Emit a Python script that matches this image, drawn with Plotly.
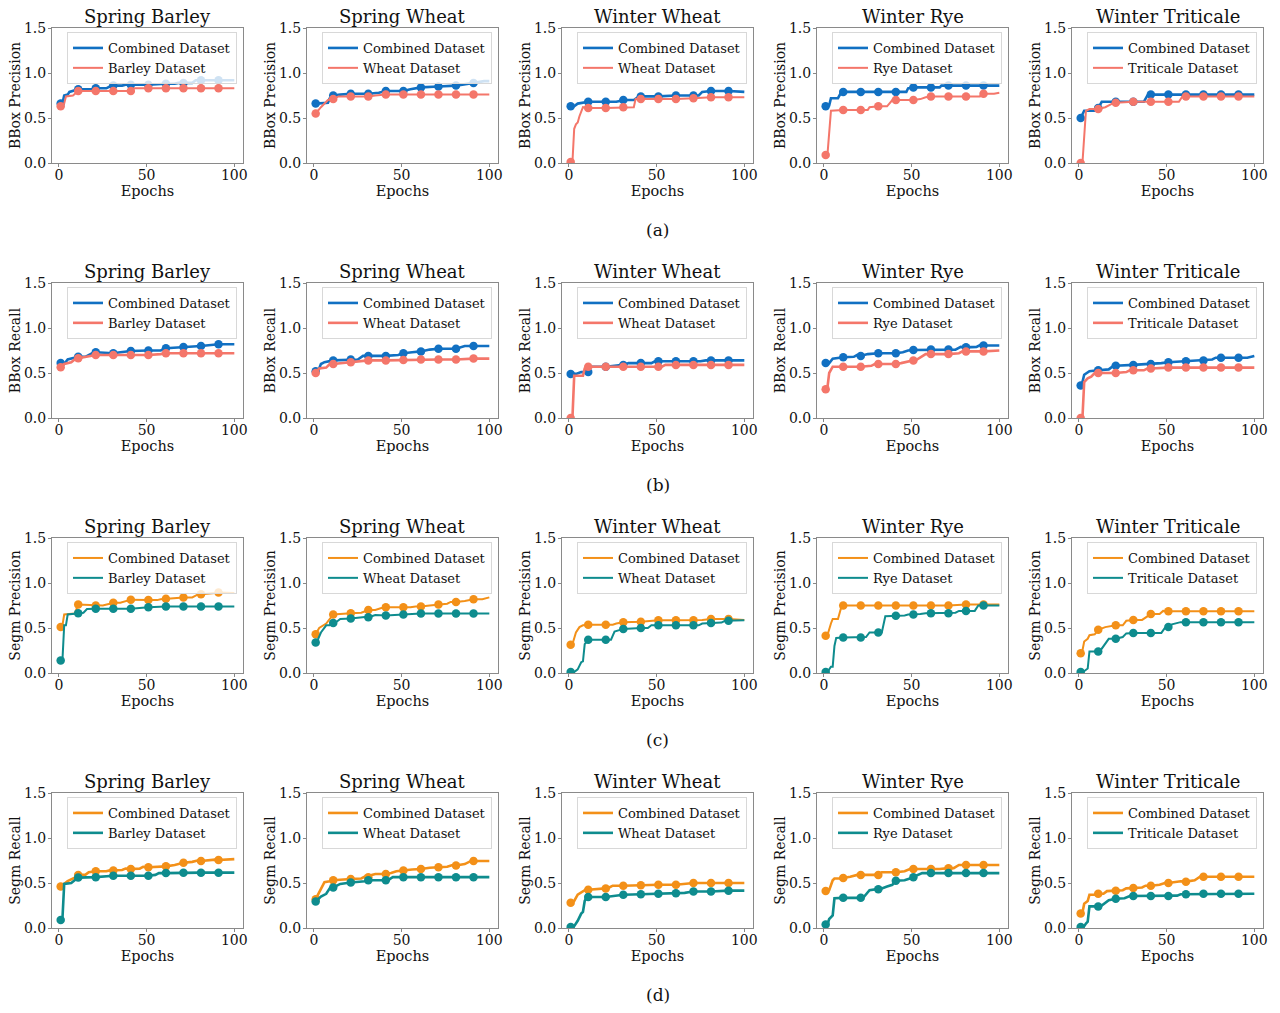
import plotly.graph_objects as go
from plotly.subplots import make_subplots

# ---------------- data ----------------
crops = ["Spring Barley", "Spring Wheat", "Winter Wheat", "Winter Rye", "Winter Triticale"]
single_names = ["Barley Dataset", "Wheat Dataset", "Wheat Dataset", "Rye Dataset", "Triticale Dataset"]
combined_name = "Combined Dataset"
metrics = ["BBox Precision", "BBox Recall", "Segm Precision", "Segm Recall"]
panel_letters = ["(a)", "(b)", "(c)", "(d)"]
marker_epochs = [1, 11, 21, 31, 41, 51, 61, 71, 81, 91]
x_ticks = [0, 50, 100]
y_ticks = [0.0, 0.5, 1.0, 1.5]
y_tick_text = ["0.0", "0.5", "1.0", "1.5"]

# (a) BBox Precision
bbox_prec_comb_ep = [
    [1, 2, 3, 5, 6, 11, 20, 21, 27, 29, 31, 36, 38, 41, 51, 61, 66, 68, 71, 76, 78, 81, 91, 100],
    [1, 8, 9, 11, 15, 21, 31, 37, 41, 51, 55, 61, 71, 81, 91, 97, 100],
    [1, 3, 5, 11, 21, 27, 29, 31, 37, 40, 41, 51, 61, 71, 74, 76, 81, 91, 100],
    [1, 3, 4, 8, 10, 11, 21, 31, 41, 47, 48, 51, 61, 66, 67, 71, 81, 91, 100],
    [1, 2, 3, 9, 11, 13, 21, 31, 37, 39, 41, 51, 61, 71, 81, 91, 100],
]
bbox_prec_comb_val = [
    [0.66, 0.66, 0.75, 0.76, 0.79, 0.82, 0.82, 0.83, 0.83, 0.85, 0.86, 0.86, 0.87, 0.87, 0.87, 0.88, 0.88, 0.89, 0.89, 0.89, 0.92, 0.92, 0.92, 0.92],
    [0.66, 0.67, 0.72, 0.75, 0.76, 0.77, 0.77, 0.78, 0.80, 0.80, 0.82, 0.84, 0.85, 0.86, 0.89, 0.91, 0.91],
    [0.63, 0.63, 0.66, 0.68, 0.68, 0.68, 0.69, 0.70, 0.70, 0.74, 0.74, 0.74, 0.75, 0.75, 0.75, 0.79, 0.80, 0.80, 0.79],
    [0.63, 0.64, 0.72, 0.72, 0.79, 0.79, 0.79, 0.79, 0.79, 0.79, 0.83, 0.84, 0.84, 0.84, 0.86, 0.86, 0.86, 0.86, 0.86],
    [0.50, 0.55, 0.58, 0.58, 0.61, 0.68, 0.68, 0.68, 0.68, 0.75, 0.76, 0.76, 0.76, 0.76, 0.76, 0.76, 0.76],
]
bbox_prec_single_ep = [
    [1, 2, 3, 4, 8, 10, 11, 21, 31, 41, 43, 51, 61, 71, 81, 91, 100],
    [1, 4, 8, 11, 14, 21, 31, 35, 41, 51, 61, 71, 81, 91, 100],
    [1, 2, 3, 4, 5, 6, 8, 11, 21, 31, 37, 38, 41, 51, 61, 71, 81, 91, 100],
    [1, 2, 4, 11, 21, 25, 26, 31, 36, 39, 41, 51, 55, 58, 61, 71, 81, 89, 90, 91, 97, 100],
    [1, 2, 4, 6, 11, 15, 19, 21, 31, 41, 51, 57, 59, 61, 71, 81, 91, 100],
]
bbox_prec_single_val = [
    [0.63, 0.64, 0.66, 0.74, 0.75, 0.79, 0.80, 0.80, 0.80, 0.80, 0.83, 0.83, 0.83, 0.83, 0.83, 0.83, 0.83],
    [0.55, 0.62, 0.70, 0.71, 0.74, 0.74, 0.74, 0.75, 0.76, 0.76, 0.76, 0.76, 0.76, 0.76, 0.76],
    [0.01, 0.01, 0.38, 0.43, 0.45, 0.52, 0.62, 0.61, 0.61, 0.62, 0.62, 0.71, 0.71, 0.71, 0.71, 0.72, 0.73, 0.73, 0.73],
    [0.09, 0.09, 0.58, 0.59, 0.59, 0.59, 0.62, 0.63, 0.63, 0.70, 0.70, 0.70, 0.71, 0.73, 0.74, 0.74, 0.74, 0.74, 0.77, 0.77, 0.77, 0.78],
    [0.0, 0.0, 0.58, 0.60, 0.60, 0.62, 0.66, 0.67, 0.68, 0.68, 0.68, 0.68, 0.74, 0.74, 0.74, 0.74, 0.74, 0.74],
]

# (b) BBox Recall
bbox_rec_comb_ep = [
    [1, 3, 5, 11, 15, 19, 21, 31, 35, 41, 51, 58, 61, 66, 71, 81, 91, 100],
    [1, 3, 4, 6, 11, 21, 25, 28, 31, 41, 48, 51, 56, 61, 66, 71, 81, 86, 91, 100],
    [1, 4, 7, 10, 11, 12, 21, 31, 34, 41, 47, 49, 51, 61, 71, 75, 78, 81, 91, 100],
    [1, 3, 5, 11, 17, 19, 21, 25, 31, 41, 45, 48, 51, 61, 71, 75, 78, 81, 87, 89, 91, 100],
    [1, 2, 3, 5, 6, 11, 17, 19, 21, 31, 41, 47, 51, 61, 71, 76, 78, 81, 91, 96, 100],
]
bbox_rec_comb_val = [
    [0.61, 0.60, 0.65, 0.68, 0.68, 0.72, 0.73, 0.72, 0.73, 0.745, 0.75, 0.75, 0.775, 0.78, 0.79, 0.80, 0.82, 0.82],
    [0.52, 0.55, 0.60, 0.62, 0.64, 0.65, 0.65, 0.69, 0.69, 0.69, 0.70, 0.72, 0.73, 0.74, 0.76, 0.77, 0.77, 0.80, 0.80, 0.80],
    [0.49, 0.49, 0.51, 0.51, 0.51, 0.57, 0.57, 0.59, 0.61, 0.61, 0.61, 0.63, 0.63, 0.63, 0.63, 0.63, 0.64, 0.64, 0.64, 0.64],
    [0.61, 0.61, 0.66, 0.675, 0.68, 0.70, 0.69, 0.71, 0.72, 0.72, 0.73, 0.75, 0.755, 0.76, 0.76, 0.76, 0.79, 0.785, 0.79, 0.81, 0.805, 0.805],
    [0.36, 0.40, 0.48, 0.51, 0.52, 0.53, 0.54, 0.57, 0.58, 0.59, 0.60, 0.61, 0.62, 0.63, 0.64, 0.65, 0.67, 0.67, 0.67, 0.67, 0.69],
]
bbox_rec_single_ep = [
    [1, 3, 7, 9, 11, 15, 19, 21, 31, 41, 51, 58, 61, 71, 81, 91, 100],
    [1, 3, 7, 9, 11, 21, 28, 31, 41, 51, 61, 71, 81, 88, 91, 100],
    [1, 2, 3, 8, 9, 11, 21, 31, 41, 51, 53, 55, 61, 71, 81, 91, 100],
    [1, 2, 3, 5, 11, 21, 27, 29, 31, 41, 44, 48, 51, 53, 58, 61, 71, 77, 79, 81, 91, 100],
    [1, 2, 3, 5, 7, 9, 11, 21, 27, 29, 31, 37, 39, 41, 51, 61, 71, 81, 91, 100],
]
bbox_rec_single_val = [
    [0.565, 0.60, 0.62, 0.65, 0.665, 0.68, 0.70, 0.70, 0.70, 0.70, 0.70, 0.71, 0.72, 0.72, 0.72, 0.72, 0.72],
    [0.50, 0.55, 0.56, 0.60, 0.60, 0.62, 0.63, 0.64, 0.64, 0.645, 0.65, 0.65, 0.65, 0.66, 0.66, 0.66],
    [0.0, 0.0, 0.47, 0.47, 0.55, 0.57, 0.57, 0.57, 0.57, 0.57, 0.57, 0.59, 0.59, 0.59, 0.59, 0.59, 0.59],
    [0.32, 0.34, 0.50, 0.57, 0.57, 0.57, 0.58, 0.60, 0.60, 0.60, 0.61, 0.63, 0.64, 0.65, 0.71, 0.71, 0.71, 0.72, 0.74, 0.74, 0.74, 0.75],
    [0.0, 0.0, 0.40, 0.44, 0.46, 0.50, 0.50, 0.50, 0.51, 0.53, 0.53, 0.53, 0.55, 0.55, 0.56, 0.56, 0.56, 0.56, 0.56, 0.56],
]

# (c) Segm Precision
segm_prec_comb_ep = [
    [1, 2, 3, 9, 11, 21, 25, 29, 31, 35, 39, 41, 51, 56, 58, 61, 68, 71, 76, 79, 81, 86, 89, 91, 100],
    [1, 3, 7, 9, 11, 21, 27, 31, 35, 38, 41, 51, 55, 58, 61, 66, 71, 76, 78, 81, 86, 91, 96, 99, 100],
    [1, 2, 4, 6, 8, 11, 21, 25, 27, 31, 41, 51, 61, 71, 76, 81, 91, 100],
    [1, 2, 4, 5, 8, 10, 11, 21, 31, 41, 51, 61, 71, 81, 91, 100],
    [1, 2, 3, 5, 6, 9, 11, 14, 15, 21, 25, 27, 31, 36, 39, 41, 46, 48, 51, 61, 71, 81, 91, 100],
]
segm_prec_comb_val = [
    [0.51, 0.53, 0.65, 0.66, 0.76, 0.75, 0.75, 0.77, 0.78, 0.78, 0.80, 0.815, 0.81, 0.81, 0.82, 0.825, 0.83, 0.84, 0.84, 0.87, 0.875, 0.88, 0.89, 0.895, 0.89],
    [0.43, 0.50, 0.55, 0.60, 0.65, 0.665, 0.67, 0.70, 0.70, 0.72, 0.73, 0.73, 0.73, 0.74, 0.74, 0.75, 0.76, 0.77, 0.79, 0.79, 0.80, 0.82, 0.82, 0.84, 0.84],
    [0.315, 0.32, 0.45, 0.51, 0.53, 0.537, 0.537, 0.537, 0.55, 0.563, 0.57, 0.585, 0.585, 0.585, 0.59, 0.60, 0.60, 0.59],
    [0.415, 0.42, 0.55, 0.60, 0.60, 0.74, 0.75, 0.75, 0.75, 0.75, 0.75, 0.75, 0.75, 0.76, 0.76, 0.76],
    [0.22, 0.25, 0.35, 0.38, 0.42, 0.43, 0.48, 0.50, 0.51, 0.53, 0.53, 0.58, 0.59, 0.59, 0.63, 0.655, 0.655, 0.69, 0.685, 0.685, 0.685, 0.685, 0.685, 0.685],
]
segm_prec_single_ep = [
    [1, 2, 3, 4, 5, 9, 11, 14, 16, 21, 31, 41, 51, 61, 71, 81, 91, 100],
    [1, 2, 4, 7, 9, 11, 13, 15, 21, 31, 33, 35, 41, 51, 61, 71, 81, 91, 100],
    [1, 3, 5, 7, 8, 9, 11, 21, 24, 26, 31, 41, 45, 47, 51, 61, 71, 74, 76, 81, 87, 89, 91, 100],
    [1, 2, 4, 5, 6, 7, 11, 21, 24, 26, 31, 33, 35, 41, 46, 48, 51, 55, 58, 61, 71, 75, 77, 81, 86, 88, 91, 100],
    [1, 3, 5, 6, 9, 11, 13, 15, 17, 21, 25, 27, 31, 41, 47, 49, 51, 53, 56, 58, 61, 71, 81, 91, 100],
]
segm_prec_single_val = [
    [0.14, 0.14, 0.53, 0.53, 0.65, 0.66, 0.665, 0.67, 0.71, 0.715, 0.715, 0.715, 0.73, 0.74, 0.74, 0.74, 0.74, 0.74],
    [0.34, 0.36, 0.45, 0.53, 0.53, 0.555, 0.57, 0.60, 0.605, 0.62, 0.63, 0.645, 0.64, 0.65, 0.66, 0.66, 0.66, 0.66, 0.66],
    [0.01, 0.01, 0.04, 0.12, 0.13, 0.32, 0.37, 0.37, 0.37, 0.46, 0.49, 0.50, 0.50, 0.53, 0.53, 0.53, 0.53, 0.53, 0.55, 0.555, 0.56, 0.58, 0.58, 0.585],
    [0.01, 0.01, 0.07, 0.07, 0.30, 0.39, 0.395, 0.395, 0.40, 0.45, 0.45, 0.45, 0.63, 0.635, 0.64, 0.65, 0.65, 0.655, 0.665, 0.665, 0.665, 0.67, 0.69, 0.69, 0.69, 0.75, 0.75, 0.75],
    [0.01, 0.02, 0.05, 0.24, 0.24, 0.24, 0.27, 0.32, 0.38, 0.38, 0.40, 0.44, 0.445, 0.445, 0.445, 0.50, 0.51, 0.54, 0.55, 0.565, 0.565, 0.565, 0.565, 0.565, 0.565],
]

# (d) Segm Recall
segm_rec_comb_ep = [
    [1, 3, 5, 9, 11, 15, 17, 21, 27, 29, 31, 36, 38, 41, 46, 48, 51, 58, 61, 66, 69, 71, 76, 79, 81, 89, 91, 96, 100],
    [1, 3, 5, 6, 9, 11, 21, 27, 29, 31, 33, 35, 41, 44, 47, 51, 56, 61, 66, 71, 76, 79, 81, 86, 89, 91, 100],
    [1, 3, 5, 7, 9, 11, 17, 19, 21, 23, 25, 31, 41, 46, 48, 51, 61, 66, 69, 71, 81, 91, 100],
    [1, 3, 5, 6, 9, 11, 15, 19, 21, 31, 33, 41, 46, 49, 51, 61, 66, 71, 74, 77, 81, 91, 100],
    [1, 2, 3, 5, 6, 9, 11, 14, 16, 21, 25, 27, 31, 36, 38, 41, 46, 49, 51, 56, 58, 61, 66, 69, 71, 81, 91, 100],
]
segm_rec_comb_val = [
    [0.46, 0.49, 0.52, 0.56, 0.59, 0.59, 0.62, 0.63, 0.63, 0.64, 0.64, 0.645, 0.66, 0.655, 0.66, 0.68, 0.675, 0.68, 0.685, 0.70, 0.72, 0.725, 0.735, 0.75, 0.745, 0.76, 0.755, 0.765, 0.765],
    [0.32, 0.40, 0.47, 0.51, 0.52, 0.53, 0.545, 0.55, 0.57, 0.565, 0.59, 0.60, 0.60, 0.61, 0.63, 0.64, 0.65, 0.655, 0.67, 0.675, 0.68, 0.70, 0.695, 0.71, 0.74, 0.745, 0.745],
    [0.28, 0.30, 0.37, 0.40, 0.42, 0.425, 0.43, 0.44, 0.44, 0.45, 0.47, 0.47, 0.475, 0.48, 0.485, 0.48, 0.48, 0.49, 0.50, 0.50, 0.50, 0.50, 0.50],
    [0.41, 0.42, 0.53, 0.55, 0.55, 0.555, 0.57, 0.59, 0.59, 0.59, 0.62, 0.62, 0.63, 0.655, 0.655, 0.655, 0.655, 0.665, 0.665, 0.70, 0.70, 0.70, 0.70],
    [0.16, 0.17, 0.27, 0.30, 0.37, 0.37, 0.38, 0.38, 0.41, 0.415, 0.42, 0.44, 0.445, 0.45, 0.47, 0.47, 0.48, 0.50, 0.50, 0.51, 0.52, 0.515, 0.53, 0.57, 0.57, 0.57, 0.57, 0.57],
]
segm_rec_single_ep = [
    [1, 2, 3, 7, 9, 11, 21, 31, 41, 51, 55, 57, 61, 71, 81, 91, 100],
    [1, 2, 4, 7, 9, 11, 13, 15, 21, 26, 29, 31, 41, 43, 45, 51, 61, 71, 81, 91, 100],
    [1, 3, 5, 7, 8, 9, 10, 11, 21, 23, 26, 31, 41, 51, 61, 66, 69, 71, 81, 86, 89, 91, 100],
    [1, 2, 3, 4, 5, 6, 11, 21, 23, 26, 31, 33, 36, 39, 41, 46, 49, 51, 56, 61, 71, 81, 91, 100],
    [1, 3, 4, 5, 6, 9, 11, 13, 15, 17, 21, 26, 29, 31, 41, 51, 56, 58, 61, 71, 81, 91, 100],
]
segm_rec_single_val = [
    [0.09, 0.10, 0.49, 0.50, 0.53, 0.56, 0.565, 0.58, 0.58, 0.58, 0.59, 0.61, 0.61, 0.615, 0.615, 0.615, 0.615],
    [0.295, 0.31, 0.35, 0.38, 0.44, 0.45, 0.47, 0.49, 0.505, 0.51, 0.52, 0.53, 0.53, 0.54, 0.565, 0.565, 0.565, 0.565, 0.565, 0.565, 0.565],
    [0.01, 0.02, 0.08, 0.16, 0.18, 0.30, 0.34, 0.345, 0.345, 0.35, 0.36, 0.37, 0.375, 0.38, 0.385, 0.39, 0.40, 0.405, 0.405, 0.41, 0.415, 0.415, 0.415],
    [0.04, 0.04, 0.10, 0.12, 0.14, 0.33, 0.335, 0.335, 0.35, 0.42, 0.43, 0.44, 0.46, 0.48, 0.525, 0.53, 0.55, 0.565, 0.61, 0.61, 0.61, 0.61, 0.61, 0.61],
    [0.01, 0.02, 0.05, 0.07, 0.24, 0.24, 0.24, 0.25, 0.28, 0.31, 0.325, 0.33, 0.355, 0.355, 0.355, 0.355, 0.36, 0.375, 0.375, 0.38, 0.38, 0.38, 0.38],
]

# ---------------- styling / layout ----------------
W, H = 1280, 1013
FONT = "DejaVu Serif"
row_data = [
    (bbox_prec_comb_ep, bbox_prec_comb_val, bbox_prec_single_ep, bbox_prec_single_val),
    (bbox_rec_comb_ep, bbox_rec_comb_val, bbox_rec_single_ep, bbox_rec_single_val),
    (segm_prec_comb_ep, segm_prec_comb_val, segm_prec_single_ep, segm_prec_single_val),
    (segm_rec_comb_ep, segm_rec_comb_val, segm_rec_single_ep, segm_rec_single_val),
]
row_colors = [
    ("#1170c2", "#f4766a"),
    ("#1170c2", "#f4766a"),
    ("#f39018", "#0e8c8e"),
    ("#f39018", "#0e8c8e"),
]
row_widths = [(2.6, 2.0), (2.6, 2.6), (2.0, 2.0), (2.6, 2.6)]

col_left = [52, 307, 562, 817, 1072]
row_top = [28, 283, 538, 793]
pw, ph = 191, 135

fig = make_subplots(rows=4, cols=5)

annotations = []
for r in range(4):
    ce, cv, se, sv = row_data[r]
    c_col, s_col = row_colors[r]
    c_w, s_w = row_widths[r]
    for c in range(5):
        k = r * 5 + c + 1
        leg = "legend" if k == 1 else f"legend{k}"
        l, t = col_left[c], row_top[r]
        for ep, val, color, width, name in [
            (ce[c], cv[c], c_col, c_w, combined_name),
            (se[c], sv[c], s_col, s_w, single_names[c]),
        ]:
            fig.add_trace(go.Scatter(
                x=ep, y=val, mode="lines", name=name,
                line=dict(color=color, width=width),
                legend=leg, showlegend=True, hoverinfo="skip"),
                row=r + 1, col=c + 1)
            lookup = dict(zip(ep, val))
            fig.add_trace(go.Scatter(
                x=marker_epochs, y=[lookup[e] for e in marker_epochs],
                mode="markers", marker=dict(color=color, size=8.5),
                showlegend=False, hoverinfo="skip"),
                row=r + 1, col=c + 1)
        xname = "xaxis" if k == 1 else f"xaxis{k}"
        yname = "yaxis" if k == 1 else f"yaxis{k}"
        fig.layout[xname].update(
            domain=[l / W, (l + pw) / W], range=[-3.95, 104.95],
            tickvals=x_ticks, ticks="outside", ticklen=3, tickcolor="#888",
            ticklabelstandoff=-4,
            showline=True, mirror=True, linecolor="#8a8a8a", linewidth=1,
            showgrid=False, zeroline=False, automargin=False,
            tickfont=dict(family=FONT, size=14, color="#111"),
            title=dict(text="Epochs", font=dict(family=FONT, size=14.5, color="#111"), standoff=1),
        )
        fig.layout[yname].update(
            domain=[1 - (t + ph) / H, 1 - t / H], range=[0, 1.5],
            tickvals=y_ticks, ticktext=y_tick_text, ticks="outside", ticklen=3, tickcolor="#888",
            ticklabelstandoff=-1,
            showline=True, mirror=True, linecolor="#8a8a8a", linewidth=1,
            showgrid=False, zeroline=False, automargin=False,
            tickfont=dict(family=FONT, size=14, color="#111"),
            title=dict(text=metrics[r], font=dict(family=FONT, size=14, color="#111"), standoff=0),
        )
        fig.layout[leg] = dict(
            x=(l + pw - 6) / W, y=1 - (t + 4) / H, xanchor="right", yanchor="top",
            bgcolor="rgba(255,255,255,0.8)", bordercolor="#d8d8d8", borderwidth=1,
            font=dict(family=FONT, size=13, color="#111"), tracegroupgap=0,
        )
        annotations.append(dict(
            text=crops[c], x=(l + pw / 2) / W, y=1 - t / H, xref="paper", yref="paper",
            xanchor="center", yanchor="bottom", showarrow=False, yshift=-1,
            font=dict(family=FONT, size=18, color="#111")))
    annotations.append(dict(
        text=panel_letters[r], x=(col_left[0] + col_left[-1] + pw) / 2 / W,
        y=1 - (row_top[r] + 202) / H, xref="paper", yref="paper",
        xanchor="center", yanchor="middle", showarrow=False,
        font=dict(family=FONT, size=17, color="#111")))

fig.update_layout(
    template="none", width=W, height=H,
    margin=dict(l=0, r=0, t=0, b=0),
    paper_bgcolor="white", plot_bgcolor="white",
    font=dict(family=FONT, color="#111"),
    annotations=annotations,
)

fig.write_html("out.html", config={"displayModeBar": False},
               post_script="document.body.style.margin='0px';")
